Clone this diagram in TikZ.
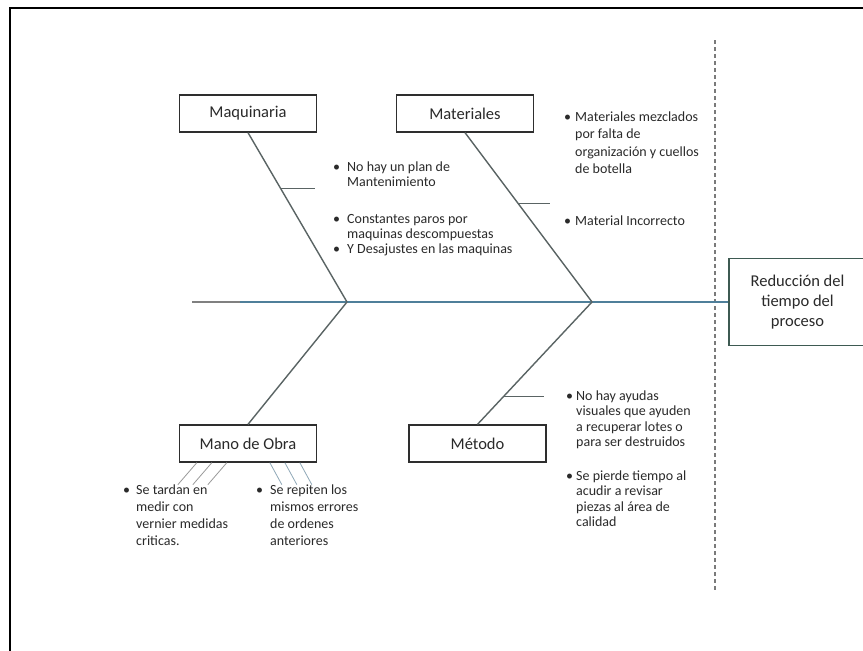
\documentclass[tikz,border=0pt]{standalone}
\usepackage{fontspec}
\setmainfont{Carlito}
\usetikzlibrary{calc}
\definecolor{txt}{HTML}{2A2A2A}
\definecolor{boxline}{HTML}{2E2E2E}
\definecolor{bone}{HTML}{5A6464}
\definecolor{spinec}{HTML}{4F7F9A}
\definecolor{resline}{HTML}{3E5A52}
\definecolor{dashc}{HTML}{7A7A7A}
\definecolor{thinl}{HTML}{9A9A9A}
\definecolor{thinb}{HTML}{8FA8B8}
\newcommand\bitem[2][12pt]{\makebox[#1][l]{\textbullet}\parbox[t]{220pt}{\raggedright #2}}
\begin{document}
\begin{tikzpicture}[x=1pt,y=-1pt,
  catbox/.style={draw=boxline,line width=1.3pt,fill=white,inner sep=0pt,
    minimum width=137pt,minimum height=37pt,text=txt,font=\fontsize{16.5}{20}\selectfont},
  resbox/.style={draw=resline,line width=1.3pt,fill=white,inner sep=0pt,
    minimum width=137pt,minimum height=87pt,text=txt,align=center,font=\fontsize{16.5}{20}\selectfont},
  bonel/.style={draw=bone,line width=1.4pt},
  subl/.style={draw=bone,line width=1.2pt},
  itemtxt/.style={inner sep=0pt,anchor=base west,text=txt},
]
\useasboundingbox (0,0) rectangle (863,651);
\fill[white] (0,0) rectangle (863,651);
\draw[line width=2pt,black] (10,652) -- (10,8) -- (864,8);

% dashed separator
\coordinate (d1) at (715,40);
\coordinate (d2) at (715,590);
\draw[dashc,line width=1.3pt,dash pattern=on 4pt off 3pt] (d1) -- (d2);

% junctions
\coordinate (s0) at (192,302);
\coordinate (j1) at (347,302);
\coordinate (j2) at (592,302);

% boxes
\node[catbox] (maq) at (248,113.5) {Maquinaria};
\node[catbox] (mat) at (465,113.5) {Materiales};
\node[catbox] (mano) at (248,443.5) {Mano de Obra};
\node[catbox] (met) at (477.5,443.5) {Método};
\node[resbox] (res) at (797.5,302) {Reducción del\\tiempo del\\proceso};

% spine
\draw[spinec,line width=1.6pt] (s0) -- (res.west);
\draw[gray,line width=1.6pt] (s0) -- ++(48,0);

% bones
\draw[bonel] (maq.south) -- (j1);
\draw[bonel] (mat.south) -- (j2);
\draw[bonel] (mano.north) -- (j1);
\draw[bonel] (met.north) -- (j2);

% sub-branches
\draw[subl] ($(maq.south)!0.33!(j1)$) -- ++(34,0);
\draw[subl] ($(mat.south)!0.418!(j2)$) -- ++(32,0);
\draw[subl] ($(met.north)!0.228!(j2)$) -- ++(40,0);

% small lines under Mano de Obra
\foreach \dx in {18,33,48}{
  \draw[thinl,line width=0.8pt] ($(mano.south west)+(\dx,0)$) -- ++(-19,22);
}
\foreach \dx in {91,106,121}{
  \draw[thinb,line width=0.8pt] ($(mano.south west)+(\dx,0)$) -- ++(12,22);
}

% bullet texts
\begin{scope}[every node/.append style={font=\fontsize{14}{15}\selectfont}]
\node[itemtxt] (m1) at (333,171) {\bitem[14pt]{No hay un plan de\\Mantenimiento}};
\node[itemtxt] (m2) at (333,223) {\bitem[14pt]{Constantes paros por\\maquinas descompuestas}};
\node[itemtxt] (m3) at (333,253) {\bitem[14pt]{Y Desajustes en las maquinas}};
\end{scope}
\begin{scope}[every node/.append style={font=\fontsize{14}{17.6}\selectfont}]
\node[itemtxt] (a1) at (564,121) {\bitem[11pt]{Materiales mezclados\\por falta de\\organización y cuellos\\de botella}};
\node[itemtxt] (a2) at (564,225) {\bitem[11pt]{Material Incorrecto}};
\end{scope}
\begin{scope}[every node/.append style={font=\fontsize{14}{15.5}\selectfont}]
\node[itemtxt] (t1) at (566,400) {\bitem[10pt]{No hay ayudas\\visuales que ayuden\\a recuperar lotes o\\para ser destruidos}};
\node[itemtxt] (t2) at (566,480) {\bitem[10pt]{Se pierde tiempo al\\acudir a revisar\\piezas al área de\\calidad}};
\end{scope}
\begin{scope}[every node/.append style={font=\fontsize{14}{17}\selectfont}]
\node[itemtxt] (o1) at (123,494) {\bitem[13pt]{Se tardan en\\medir con\\vernier medidas\\criticas.}};
\node[itemtxt] (o2) at (256,494) {\bitem[14pt]{Se repiten los\\mismos errores\\de ordenes\\anteriores}};
\end{scope}
\end{tikzpicture}
\end{document}
